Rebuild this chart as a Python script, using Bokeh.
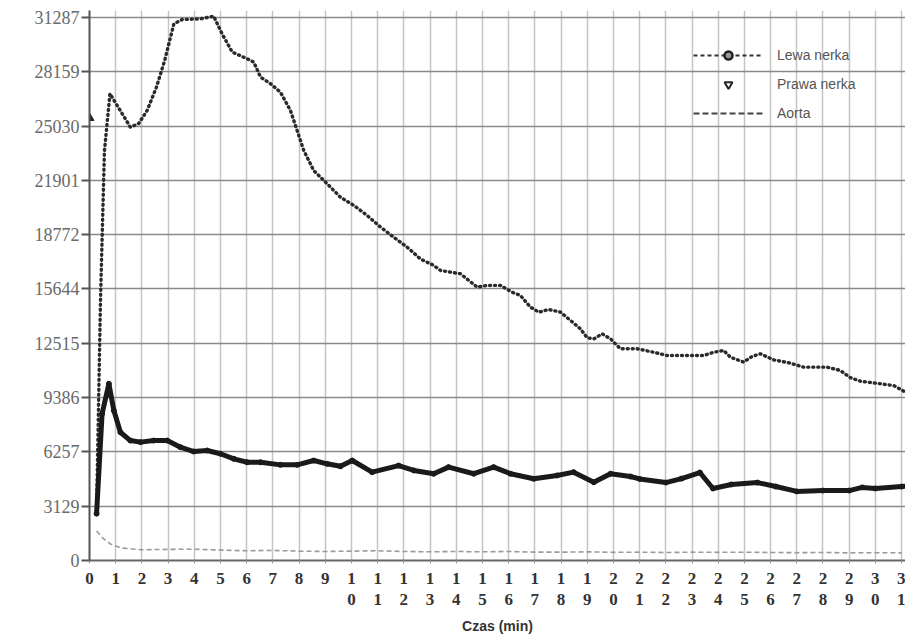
from bokeh.plotting import figure
from bokeh.models import FixedTicker, Range1d, Legend, LegendItem
from bokeh.embed import file_html
from bokeh.resources import INLINE

# ---------------- data ----------------
y_tick_values = [0, 3129, 6257, 9386, 12515, 15644, 18772, 21901, 25030, 28159, 31287]
x_tick_values = list(range(0, 32))

prawa_t = [0.27, 0.42, 0.57, 0.78, 1.56, 1.88, 2.2, 2.55, 2.87, 3.22, 3.54, 4.24, 4.74,
           5.06, 5.45, 6.02, 6.27, 6.53, 6.91, 7.29, 7.67, 7.86, 8.18, 8.56, 9.07, 9.58,
           10.09, 10.6, 11.11, 11.61, 12.13, 12.63, 13.14, 13.4, 14.16, 14.8, 15.18, 15.69,
           16.13, 16.45, 16.83, 17.15, 17.53, 17.98, 18.36, 18.74, 19.0, 19.25, 19.57, 19.89,
           20.27, 20.9, 21.54, 22.05, 22.94, 23.45, 23.83, 24.21, 24.47, 24.97, 25.29, 25.61,
           26.12, 26.76, 27.26, 28.16, 28.66, 29.05, 29.43, 30.19, 30.7, 31.08, 31.3]
prawa_v = [2900, 15000, 23600, 26900, 24970, 25180, 25930, 27250, 28810, 30920, 31170, 31210, 31360,
           30350, 29290, 28910, 28710, 27850, 27470, 26980, 25930, 25070, 23620, 22470, 21710, 20930,
           20460, 19880, 19210, 18630, 18050, 17380, 17000, 16710, 16520, 15750, 15850, 15850,
           15460, 15270, 14600, 14310, 14460, 14310, 13830, 13350, 12830, 12770, 13060, 12770,
           12200, 12200, 12000, 11810, 11810, 11810, 12000, 12100, 11710, 11430, 11750, 11910,
           11560, 11370, 11140, 11140, 10950, 10530, 10330, 10180, 10080, 9760, 9600]
prawa_first_t = [0.0]
prawa_first_v = [25500]

lewa_t = [0.27, 0.48, 0.74, 0.93, 1.18, 1.56, 1.95, 2.45, 2.97, 3.47, 3.98, 4.49, 5.0, 5.51,
          6.02, 6.53, 7.29, 7.93, 8.56, 9.07, 9.58, 10.03, 10.79, 11.8, 12.38, 13.14, 13.71,
          14.67, 15.43, 16.07, 16.96, 17.85, 18.48, 19.25, 19.89, 20.65, 21.0, 22.0, 22.6,
          23.3, 23.8, 24.5, 25.5, 26.2, 27.0, 28.0, 29.0, 29.5, 30.0, 31.0, 31.3]
lewa_v = [2700, 8450, 10180, 8640, 7390, 6910, 6820, 6910, 6910, 6530, 6280, 6340, 6150, 5860,
          5660, 5660, 5510, 5510, 5760, 5570, 5430, 5760, 5090, 5470, 5190, 5000, 5380,
          5000, 5380, 5000, 4710, 4900, 5090, 4510, 5000, 4840, 4700, 4490, 4720,
          5070, 4150, 4380, 4490, 4260, 3980, 4030, 4030, 4210, 4150, 4260, 4300]

aorta_t = [0.27, 0.5, 0.8, 1.2, 2, 3, 4, 5, 6, 7, 8, 9, 10, 11, 12, 13, 14, 15, 16, 17,
           18, 19, 20, 21, 22, 23, 24, 25, 26, 27, 28, 29, 30, 31]
aorta_v = [1700, 1300, 950, 720, 620, 640, 650, 600, 560, 580, 540, 520, 540, 560, 520, 500,
           520, 500, 520, 480, 480, 500, 470, 480, 460, 480, 470, 480, 460, 450, 460, 440, 450, 440]

legend_labels = ["Lewa nerka", "Prawa nerka", "Aorta"]
x_axis_title = "Czas (min)"

NAN = float("nan")

# ---------------- figure ----------------
p = figure(width=905, height=637, output_backend="svg", toolbar_location=None,
           x_range=Range1d(0, 31.15), y_range=Range1d(0, 31690),
           min_border_left=89, min_border_right=0, min_border_top=10, min_border_bottom=77)
p.outline_line_color = None
p.background_fill_color = "white"

# grids
p.xgrid.ticker = FixedTicker(ticks=x_tick_values)
p.ygrid.ticker = FixedTicker(ticks=y_tick_values)
p.xgrid.grid_line_color = "#c4c4c4"
p.xgrid.grid_line_width = 1.5
p.ygrid.grid_line_color = "#8a8a8a"
p.ygrid.grid_line_width = 1.6

# y axis
p.yaxis.ticker = FixedTicker(ticks=y_tick_values)
p.yaxis.major_label_overrides = {v: str(v) for v in y_tick_values}
p.yaxis.axis_line_color = "#555555"
p.yaxis.axis_line_width = 2
p.yaxis.major_tick_line_color = "#555555"
p.yaxis.major_tick_line_width = 2
p.yaxis.major_tick_out = 8
p.yaxis.major_tick_in = 0
p.yaxis.minor_tick_line_color = None
p.yaxis.major_label_text_font = "Liberation Serif"
p.yaxis.major_label_text_font_size = "18px"
p.yaxis.major_label_text_color = "#6a6a6a"
p.yaxis.major_label_standoff = 2

# x axis
p.xaxis.ticker = FixedTicker(ticks=x_tick_values)
xlab = {}
for v in x_tick_values:
    s = str(v)
    xlab[v] = s if len(s) == 1 else s[0] + "\n" + s[1]
p.xaxis.major_label_overrides = xlab
p.xaxis.axis_line_color = "#666666"
p.xaxis.axis_line_width = 2
p.xaxis.major_tick_line_color = "#999999"
p.xaxis.major_tick_out = 3
p.xaxis.major_tick_in = 0
p.xaxis.minor_tick_line_color = None
p.xaxis.major_label_text_font = "Liberation Serif"
p.xaxis.major_label_text_font_style = "bold"
p.xaxis.major_label_text_font_size = "17px"
p.xaxis.major_label_text_color = "#333333"
p.xaxis.major_label_text_line_height = 1.15
p.xaxis.major_label_standoff = 5
p.xaxis.axis_label = x_axis_title
p.xaxis.axis_label_text_font = "Liberation Sans"
p.xaxis.axis_label_text_font_style = "bold"
p.xaxis.axis_label_text_font_size = "14px"
p.xaxis.axis_label_text_color = "#333333"
p.xaxis.axis_label_standoff = 6

# ---------------- series ----------------
p.line(aorta_t, aorta_v, line_color="#9a9a9a", line_width=1.6, line_dash="5 3")
p.line(prawa_t, prawa_v, line_color="#2a2a2a", line_width=3.4, line_dash="1 4", line_cap="round")
p.scatter(prawa_first_t, prawa_first_v, marker="triangle", size=9, fill_color="#222222",
          line_color="#222222")
p.line(lewa_t, lewa_v, line_color="#1a1a1a", line_width=5, line_join="round")
p.scatter(lewa_t, lewa_v, marker="circle", size=5, fill_color="#1a1a1a", line_color="#1a1a1a")

# ---------------- legend (style-only renderers, no visible data) ----------------
lg_line1 = p.line([NAN], [NAN], line_color="#333333", line_width=2, line_dash="4 3")
lg_circ = p.scatter([NAN], [NAN], marker="circle", size=11, line_color="#222222", line_width=2.5,
                    fill_color="#9a9a9a")
lg_tri = p.scatter([NAN], [NAN], marker="inverted_triangle", size=11, line_color="#222222",
                   line_width=2, fill_color="white")
lg_line3 = p.line([NAN], [NAN], line_color="#444444", line_width=2, line_dash="6 3")
legend = Legend(items=[LegendItem(label=legend_labels[0], renderers=[lg_line1, lg_circ]),
                       LegendItem(label=legend_labels[1], renderers=[lg_tri]),
                       LegendItem(label=legend_labels[2], renderers=[lg_line3])],
                location=(604, 437), orientation="vertical",
                glyph_width=70, glyph_height=20, label_height=20, spacing=9,
                label_standoff=14, padding=0, margin=0,
                border_line_color=None, background_fill_alpha=0,
                label_text_font="Liberation Sans", label_text_font_size="14px",
                label_text_color="#555555")
p.add_layout(legend)

open("out.html", "w").write(file_html(p, INLINE))
